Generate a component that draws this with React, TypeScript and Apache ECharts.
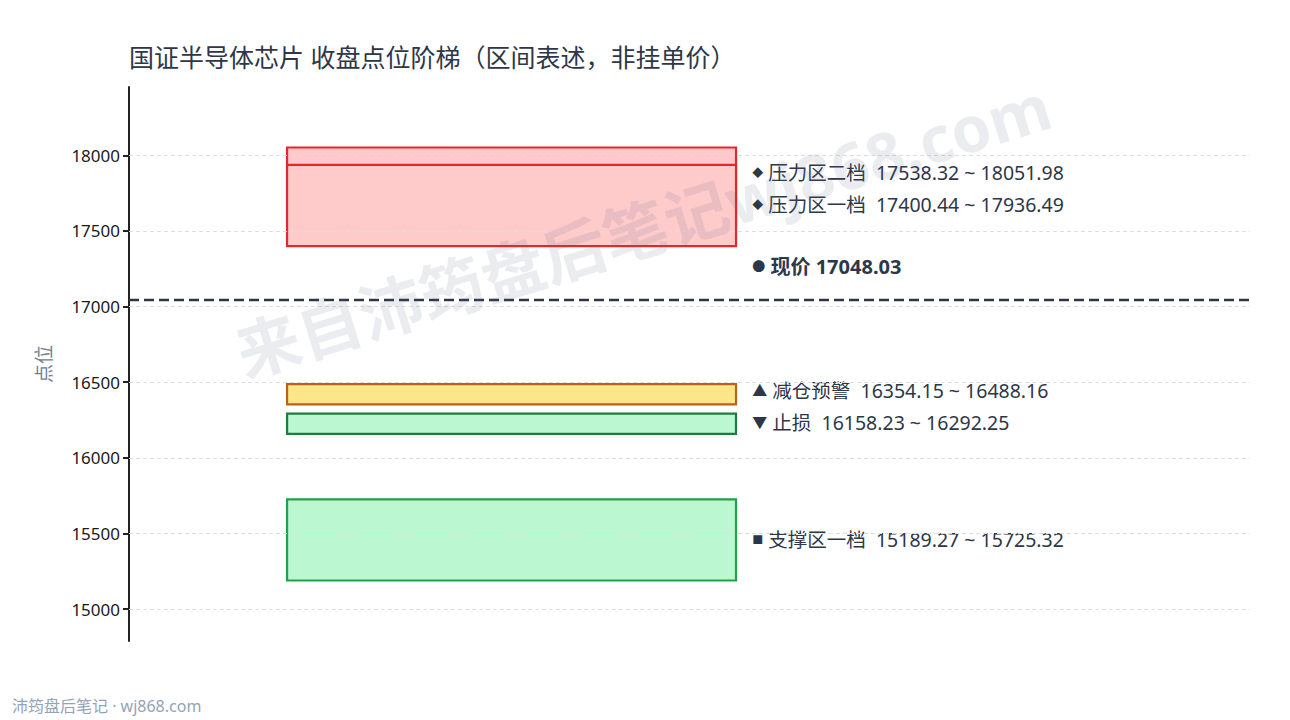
import { useEffect, useRef } from 'react';
import * as echarts from 'echarts';

const FONT = '"Noto Sans", "Noto Sans CJK SC", sans-serif';

// zones, drawn in this order (later ones sit on top)
const zoneNames = ['压力区二档', '压力区一档', '减仓预警', '止损', '支撑区一档'];
const zoneLows = [17538.32, 17400.44, 16354.15, 16158.23, 15189.27];
const zoneHighs = [18051.98, 17936.49, 16488.16, 16292.25, 15725.32];
const zoneMarkers = ['◆', '◆', '▲', '▼', '■'];
// level each label is pinned to (spread out so they don't collide)
const zoneLabelAt = [17888, 17676, 16447, 16236, 15463];

const currentPrice = 17048.03;
const currentLabelAt = 17266;

const yTicks = [15000, 15500, 16000, 16500, 17000, 17500, 18000];
const yMin = 14789.27;
const yMax = 18451.98;

const ZONE_COLORS = [
  { fill: '#fecaca', stroke: '#e0282e' },
  { fill: '#fecaca', stroke: '#e0282e' },
  { fill: '#fde68a', stroke: '#b9621a' },
  { fill: '#bbf7d0', stroke: '#1e7d3c' },
  { fill: '#bbf7d0', stroke: '#1ea34a' },
];
const MARKER_SIZE: Record<string, number> = { '◆': 11, '▲': 15, '▼': 15, '■': 11, '●': 13 };

const TEXT = '#2d3748';
const BAR_X0 = 0.141;
const BAR_X1 = 0.5415;
const LABEL_X = 0.556;

export default function App() {
  const chartRef = useRef<HTMLDivElement>(null);

  useEffect(() => {
    document.body.style.margin = '0';
    if (!chartRef.current) return;
    const chart = echarts.init(chartRef.current, undefined, { renderer: 'svg' });

    const zoneData = zoneNames.map((_, i) => [i, zoneLows[i], zoneHighs[i], zoneLabelAt[i]]);

    const option: any = {
      animation: false,
      backgroundColor: '#fff',
      title: {
        text: '国证半导体芯片 收盘点位阶梯（区间表述，非挂单价）',
        left: 129,
        top: 44,
        padding: 0,
        textStyle: { fontSize: 25, fontWeight: 'normal', color: TEXT, fontFamily: FONT },
      },
      grid: { left: 129, right: 40, top: 87, bottom: 79, outerBoundsMode: 'none' },
      xAxis: { type: 'value', min: 0, max: 1, show: false },
      yAxis: {
        type: 'value',
        min: yMin,
        max: yMax,
        name: '点位',
        nameLocation: 'middle',
        nameGap: 76,
        nameTextStyle: { fontSize: 19, color: '#718096', fontFamily: FONT },
        axisLine: { show: true, lineStyle: { color: '#222', width: 2 } },
        axisTick: {
          show: true,
          inside: false,
          customValues: yTicks,
          length: 6,
          lineStyle: { color: '#222', width: 2 },
        },
        axisLabel: {
          customValues: yTicks,
          fontSize: 17,
          color: '#1a1a1a',
          margin: 9,
          fontFamily: FONT,
          formatter: (v: number) => String(Math.round(v)),
        },
        splitLine: { show: false },
      },
      series: [
        {
          // grid lines
          type: 'line',
          data: [],
          z: 1,
          silent: true,
          markLine: {
            silent: true,
            symbol: 'none',
            label: { show: false },
            lineStyle: { color: '#dedede', type: [4, 3], width: 1 },
            data: yTicks.map((v) => ({ yAxis: v })),
          },
        },
        {
          type: 'custom',
          z: 3,
          silent: true,
          data: zoneData,
          renderItem: (_params: any, api: any) => {
            const i = api.value(0);
            const low = api.value(1);
            const high = api.value(2);
            const at = api.value(3);
            const tl = api.coord([BAR_X0, high]);
            const br = api.coord([BAR_X1, low]);
            const lp = api.coord([LABEL_X, at]);
            const c = ZONE_COLORS[i];
            const mk = zoneMarkers[i];
            return {
              type: 'group',
              children: [
                {
                  type: 'rect',
                  shape: { x: tl[0], y: tl[1], width: br[0] - tl[0], height: br[1] - tl[1] },
                  style: { fill: c.fill, stroke: c.stroke, lineWidth: 2.2 },
                },
                {
                  type: 'text',
                  x: lp[0],
                  y: lp[1],
                  style: {
                    text: `{m|${mk}} ${zoneNames[i]}  ${low.toFixed(2)} ~ ${high.toFixed(2)}`,
                    fill: TEXT,
                    fontSize: 19.5,
                    fontFamily: FONT,
                    verticalAlign: 'middle',
                    align: 'left',
                    rich: { m: { fontSize: MARKER_SIZE[mk], fontFamily: FONT, fill: TEXT } },
                  },
                },
              ],
            };
          },
        },
        {
          // current price line + label
          type: 'custom',
          z: 4,
          silent: true,
          data: [[LABEL_X, currentLabelAt, currentPrice]],
          renderItem: (_params: any, api: any) => {
            const p = api.coord([api.value(0), api.value(1)]);
            return {
              type: 'text',
              x: p[0],
              y: p[1],
              style: {
                text: `{m|●} 现价 ${api.value(2).toFixed(2)}`,
                fill: TEXT,
                fontSize: 20,
                fontWeight: 'bold',
                fontFamily: FONT,
                verticalAlign: 'middle',
                align: 'left',
                rich: { m: { fontSize: MARKER_SIZE['●'], fontFamily: FONT, fill: TEXT } },
              },
            };
          },
          markLine: {
            silent: true,
            symbol: 'none',
            label: { show: false },
            lineStyle: { color: TEXT, type: [10, 5], width: 2.4 },
            data: [{ yAxis: currentPrice }],
          },
        },
      ],
      graphic: [
        {
          type: 'text',
          x: 643,
          y: 229,
          rotation: 0.3,
          z: 100,
          silent: true,
          style: {
            text: '来自沛筠盘后笔记wj868.com',
            fontSize: 64,
            fontWeight: 'bold',
            fontFamily: FONT,
            fill: 'rgba(90,105,140,0.13)',
            align: 'center',
            verticalAlign: 'middle',
          },
        },
        {
          type: 'text',
          left: 12,
          top: 698,
          style: {
            text: '沛筠盘后笔记 · wj868.com',
            fontSize: 16,
            fontFamily: FONT,
            fill: '#94a3b8',
          },
        },
      ],
    };

    chart.setOption(option);
    return () => {
      chart.dispose();
    };
  }, []);

  return <div ref={chartRef} style={{ width: 1290, height: 720 }} />;
}
